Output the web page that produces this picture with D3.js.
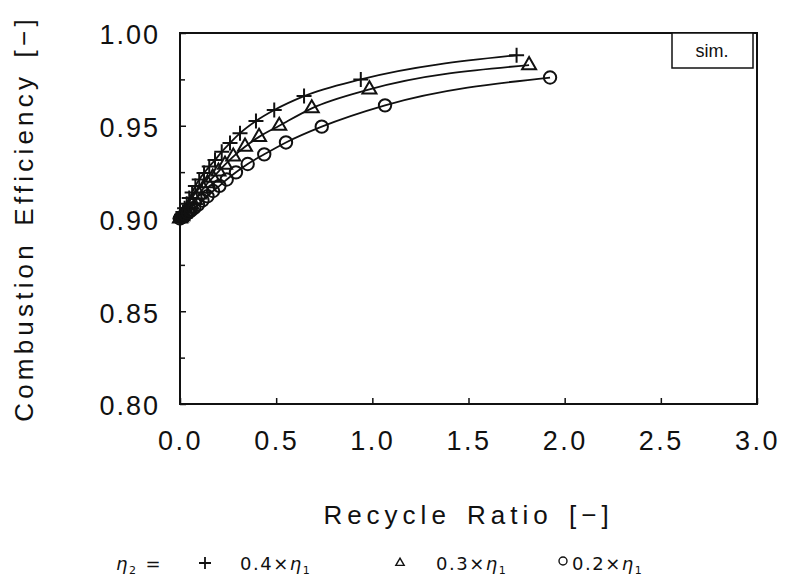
<!DOCTYPE html>
<html>
<head>
<meta charset="utf-8">
<script src="https://cdn.jsdelivr.net/npm/d3@7.9.0/dist/d3.min.js"></script>
<style>
  body { margin: 0; background: #fff; }
  svg { display: block; }
  text { fill: #111; }
</style>
</head>
<body>
<svg width="785" height="580"></svg>
<script>
// values
const plusX = [0, 0.003, 0.008, 0.015, 0.024, 0.035, 0.048, 0.063, 0.08, 0.10, 0.125, 0.152, 0.182, 0.217, 0.26, 0.312, 0.395, 0.49, 0.645, 0.94, 1.75];
const plusY = [0.900, 0.9008, 0.902, 0.9035, 0.9055, 0.908, 0.911, 0.914, 0.9175, 0.921, 0.9245, 0.928, 0.9315, 0.936, 0.9407, 0.946, 0.9526, 0.9585, 0.966, 0.975, 0.988];

const triX = [0, 0.005, 0.012, 0.021, 0.032, 0.045, 0.06, 0.078, 0.098, 0.12, 0.143, 0.17, 0.2, 0.234, 0.277, 0.338, 0.411, 0.516, 0.685, 0.985, 1.815];
const triY = [0.900, 0.9005, 0.9013, 0.9024, 0.9038, 0.9055, 0.9075, 0.910, 0.913, 0.916, 0.919, 0.922, 0.9253, 0.929, 0.9334, 0.9387, 0.944, 0.950, 0.9594, 0.9696, 0.9827];

const circX = [0, 0.008, 0.017, 0.028, 0.041, 0.056, 0.074, 0.094, 0.117, 0.143, 0.172, 0.205, 0.243, 0.291, 0.352, 0.438, 0.551, 0.737, 1.066, 1.924];
const circY = [0.900, 0.9006, 0.9012, 0.902, 0.903, 0.9042, 0.9057, 0.9075, 0.9097, 0.912, 0.9148, 0.9176, 0.921, 0.9249, 0.9294, 0.9346, 0.941, 0.9495, 0.961, 0.976];

const xTicks = [0, 0.5, 1.0, 1.5, 2.0, 2.5, 3.0];
const yTicks = [0.80, 0.85, 0.90, 0.95, 1.00];
const yMinor = [0.825, 0.875, 0.925, 0.975];

const series = [
  { xs: plusX, ys: plusY, mark: 'plus' },
  { xs: triX, ys: triY, mark: 'tri' },
  { xs: circX, ys: circY, mark: 'circ' },
];

const svg = d3.select('svg');
const pL = 180, pR = 757, pT = 33, pB = 404;

const x = d3.scaleLinear().domain([0, 3]).range([pL, pR]);
const y = d3.scaleLinear().domain([0.8, 1.0]).range([pB, pT]);

const font = '"Liberation Sans", Arial, sans-serif';

// frame
svg.append('rect')
  .attr('x', pL).attr('y', pT)
  .attr('width', pR - pL).attr('height', pB - pT)
  .attr('fill', 'none').attr('stroke', '#111').attr('stroke-width', 2);

// axes, ticks pointing inward
const xAxis = d3.axisBottom(x).tickValues(xTicks).tickSize(-6).tickFormat(d3.format('.1f'));
const gx = svg.append('g').attr('transform', `translate(0,${pB})`).call(xAxis);
gx.select('.domain').remove();
gx.selectAll('line').attr('stroke', '#111').attr('stroke-width', 1.5);
gx.selectAll('text')
  .attr('y', 46).attr('dy', 0)
  .attr('font-family', font).attr('font-size', 27)
  .attr('letter-spacing', 2.5)
  .attr('fill', '#111');

const yAxis = d3.axisLeft(y).tickValues(yTicks).tickSize(-6).tickFormat(d3.format('.2f'));
const gy = svg.append('g').attr('transform', `translate(${pL},0)`).call(yAxis);
gy.select('.domain').remove();
gy.selectAll('line').attr('stroke', '#111').attr('stroke-width', 1.5);
gy.selectAll('text')
  .attr('x', -20).attr('dy', '0.4em')
  .attr('font-family', font).attr('font-size', 27)
  .attr('letter-spacing', 2)
  .attr('fill', '#111');

const gyMinor = svg.append('g').attr('transform', `translate(${pL},0)`)
  .call(d3.axisLeft(y).tickValues(yMinor).tickSize(-5).tickFormat(''));
gyMinor.select('.domain').remove();
gyMinor.selectAll('line').attr('stroke', '#111').attr('stroke-width', 1.5);

// axis titles
svg.append('text')
  .attr('x', (pL + pR) / 2).attr('y', 524)
  .attr('text-anchor', 'middle')
  .attr('font-family', font).attr('font-size', 26)
  .attr('letter-spacing', 5).attr('word-spacing', 4)
  .text('Recycle Ratio [−]');

svg.append('text')
  .attr('transform', `translate(33,${(pT + pB) / 2}) rotate(-90)`)
  .attr('text-anchor', 'middle')
  .attr('font-family', font).attr('font-size', 26)
  .attr('letter-spacing', 4.2).attr('word-spacing', 4)
  .text('Combustion Efficiency [−]');

// curves and markers
const line = d3.line().curve(d3.curveMonotoneX);
const tri = d3.symbol().type(d3.symbolTriangle).size(85);
const circ = d3.symbol().type(d3.symbolCircle).size(120);
const plus = 'M-7.5,0H7.5M0,-7.5V7.5';

series.forEach((s) => {
  const pts = s.xs.map((v, i) => [x(v), y(s.ys[i])]);
  svg.append('path')
    .attr('d', line(pts))
    .attr('fill', 'none').attr('stroke', '#111').attr('stroke-width', 1.8);
  svg.append('g').selectAll('path')
    .data(pts)
    .join('path')
    .attr('transform', (p) => `translate(${p[0]},${p[1]})`)
    .attr('d', s.mark === 'plus' ? plus : s.mark === 'tri' ? tri() : circ())
    .attr('fill', 'none').attr('stroke', '#111').attr('stroke-width', 2);
});

// "sim." box
svg.append('rect')
  .attr('x', 672).attr('y', pT).attr('width', 81).attr('height', 35)
  .attr('fill', '#fff').attr('stroke', '#111').attr('stroke-width', 1.5);
svg.append('text')
  .attr('x', 712).attr('y', 57).attr('text-anchor', 'middle')
  .attr('font-family', font).attr('font-size', 18)
  .text('sim.');

// legend below
const legFont = '"DejaVu Sans", sans-serif';
const legY = 570;
const leg = svg.append('g').attr('font-family', legFont).attr('font-size', 18).attr('letter-spacing', 1.5);
const eta2 = leg.append('text').attr('x', 116).attr('y', legY);
eta2.append('tspan').attr('font-style', 'italic').text('η');
eta2.append('tspan').attr('font-size', 11).attr('dy', 4).text('2');
eta2.append('tspan').attr('dy', -4).attr('dx', 8).text('=');

const legItems = [
  { mark: 'plus', x: 205, tx: 240, label: '0.4' },
  { mark: 'tri', x: 400, tx: 436, label: '0.3' },
  { mark: 'circ', x: 563, tx: 572, label: '0.2' },
];
legItems.forEach((it) => {
  const gm = leg.append('g').attr('transform', `translate(${it.x},${legY - 7})`);
  if (it.mark === 'plus') {
    gm.append('path').attr('d', 'M-6,0H6M0,-6V6').attr('stroke', '#111').attr('stroke-width', 1.8);
  } else if (it.mark === 'tri') {
    gm.append('path').attr('d', d3.symbol().type(d3.symbolTriangle).size(30)()).attr('fill', 'none').attr('stroke', '#111').attr('stroke-width', 1.4);
  } else {
    gm.append('circle').attr('r', 4).attr('cy', -2).attr('fill', 'none').attr('stroke', '#111').attr('stroke-width', 1.4);
  }
  const t = leg.append('text').attr('x', it.tx).attr('y', legY);
  t.append('tspan').text(it.label + '×');
  t.append('tspan').attr('font-style', 'italic').text('η');
  t.append('tspan').attr('font-size', 11).attr('dy', 4).text('1');
});
</script>
</body>
</html>
